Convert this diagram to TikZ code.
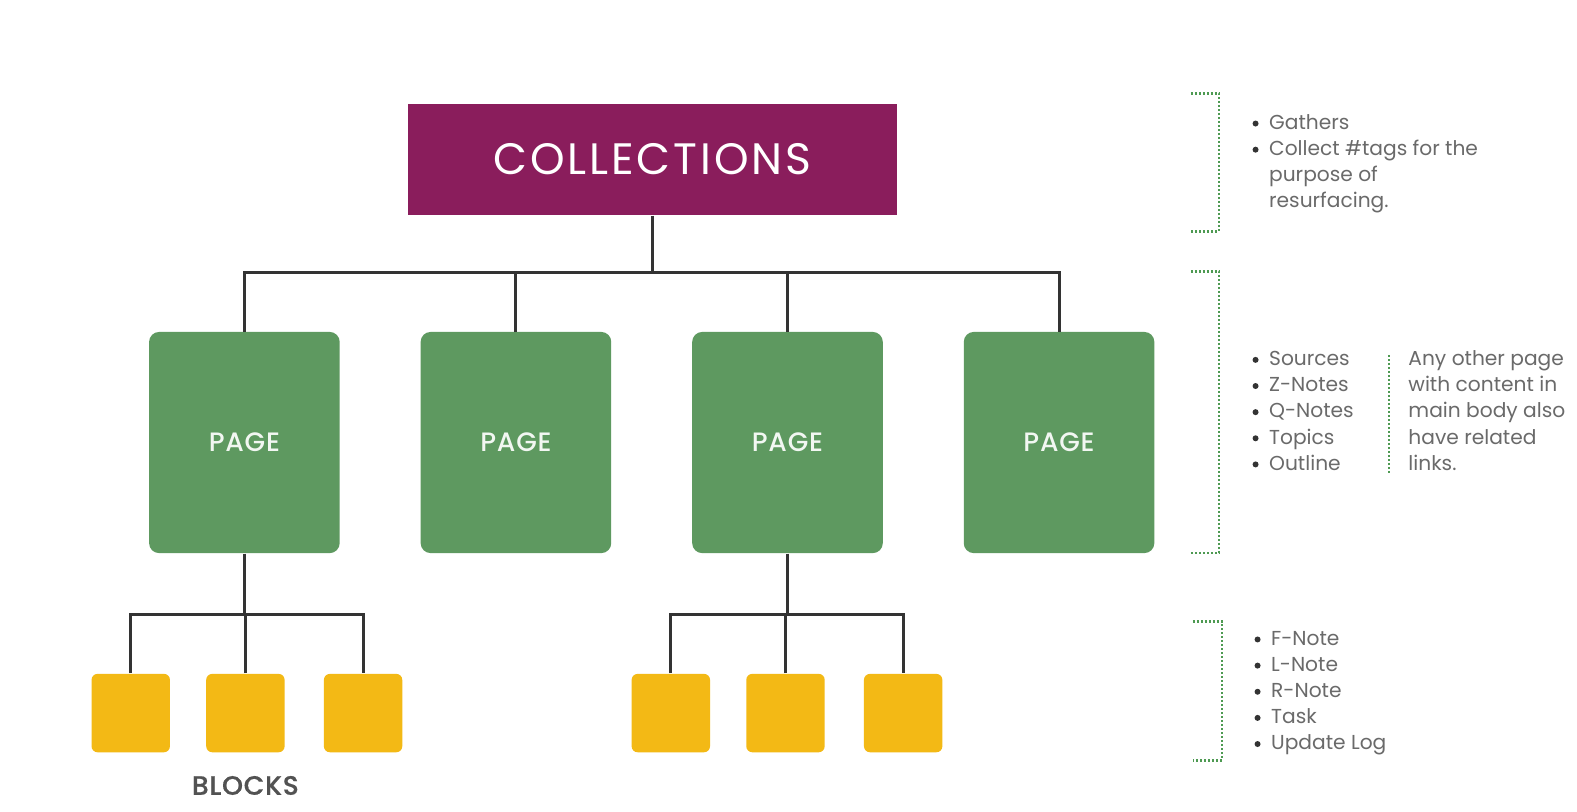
\documentclass[tikz,border=0pt]{standalone}
\usepackage{fontspec}
\setmainfont{Poppins}
\newfontfamily\popmed{Poppins Medium}
\definecolor{cpurple}{HTML}{8A1D5C}
\definecolor{cgreen}{HTML}{5E9960}
\definecolor{cyellow}{HTML}{F3B915}
\definecolor{cline}{HTML}{333333}
\definecolor{ctext}{HTML}{6A6A6A}
\definecolor{cdot}{HTML}{4E9A52}
\newcommand\blt{\tikz[baseline=-2.9pt]\fill[black!80] (0,0) circle[radius=1.5pt];}
\begin{document}
\begin{tikzpicture}[x=0.5029pt,y=-0.5029pt,
  collbox/.style={fill=cpurple,minimum width=244.6pt,minimum height=55.8pt,inner sep=0pt,
    text=white,font=\fontsize{22}{26}\selectfont\addfontfeature{LetterSpace=6.5}},
  pagebox/.style={fill=cgreen,rounded corners=5pt,minimum width=95.3pt,minimum height=110.6pt,inner sep=0pt,
    text=white!92!cgreen,font=\popmed\fontsize{13.3}{16}\selectfont\addfontfeature{LetterSpace=3}},
  blockbox/.style={fill=cyellow,rounded corners=3pt,minimum width=39.2pt,minimum height=39.2pt,inner sep=0pt},
  conn/.style={draw=cline,line width=1.5pt},
  brack/.style={draw=cdot,line width=1.2pt,dash pattern=on 0.9pt off 1.1pt},
  notes/.style={anchor=north west,inner sep=0pt,text=ctext,font=\fontsize{10.1}{13.07}\selectfont,align=left}
]
\useasboundingbox (0,0) rectangle (1568,807);
\fill[white] (0,0) rectangle (1568,807);

% top
\node[collbox] (coll) at (648.5,158.5) {COLLECTIONS};

% pages
\node[pagebox] (p1) at (243,440) {PAGE};
\node[pagebox] (p2) at (513,440) {PAGE};
\node[pagebox] (p3) at (783,440) {PAGE};
\node[pagebox] (p4) at (1053,440) {PAGE};

% blocks
\node[blockbox] (b1) at (130,709) {};
\node[blockbox] (b2) at (244,709) {};
\node[blockbox] (b3) at (361,709) {};
\node[blockbox] (b4) at (667,709) {};
\node[blockbox] (b5) at (781,709) {};
\node[blockbox] (b6) at (898,709) {};

\node[text=cline!85!white,font=\popmed\fontsize{13.3}{16}\selectfont\addfontfeature{LetterSpace=3,FakeBold=0.6}] (blk) at (244,781) {BLOCKS};

% junction coordinates
\coordinate (j0) at (coll.south |- 0,271);
\coordinate (j1) at (p1.south |- 0,611);
\coordinate (j3) at (p3.south |- 0,611);

% connectors collections -> pages
\draw[conn] (coll.south) -- (j0);
\draw[conn] (p1.north) |- (j0) -| (p4.north);
\draw[conn] (p2.north) -- (p2.north |- j0);
\draw[conn] (p3.north) -- (p3.north |- j0);

% page1 -> blocks
\draw[conn] (p1.south) -- (j1);
\draw[conn] (b1.north) |- (j1) -| (b3.north);
\draw[conn] (b2.north) -- (b2.north |- j1);

% page3 -> blocks
\draw[conn] (p3.south) -- (j3);
\draw[conn] (b4.north) |- (j3) -| (b6.north);
\draw[conn] (b5.north) -- (b5.north |- j3);

% brackets
\coordinate (k1a) at (1184,93);  \coordinate (k1b) at (1184,230);
\coordinate (k2a) at (1184,270); \coordinate (k2b) at (1184,550);
\coordinate (k3a) at (1186,618); \coordinate (k3b) at (1186,756);
\draw[brack] (k1a) -- ++(28,0) |- (k1b);
\draw[brack] (k2a) -- ++(28,0) |- (k2b);
\draw[brack] (k3a) -- ++(29,0) |- (k3b);
\coordinate (k4a) at (1381,353); \coordinate (k4b) at (1381,470);
\draw[brack] (k4a) -- (k4b);

% notes
\node[notes] (n1) at (1245,110) {\begin{tabular}{@{}l@{\hspace{5.3pt}}l@{}}
\blt & Gathers\\
\blt & Collect \#tags for the\\
 & purpose of\\
 & resurfacing.
\end{tabular}};
\node[notes] (n2) at (1245,345) {\begin{tabular}{@{}l@{\hspace{5.3pt}}l@{}}
\blt & Sources\\
\blt & Z-Notes\\
\blt & Q-Notes\\
\blt & Topics\\
\blt & Outline
\end{tabular}};
\node[notes] (n3) at (1400,345) {\begin{tabular}{@{}l@{}}
Any other page\\
with content in\\
main body also\\
have related\\
links.
\end{tabular}};
\node[notes] (n4) at (1247,623) {\begin{tabular}{@{}l@{\hspace{5.3pt}}l@{}}
\blt & F-Note\\
\blt & L-Note\\
\blt & R-Note\\
\blt & Task\\
\blt & Update Log
\end{tabular}};
\end{tikzpicture}
\end{document}
